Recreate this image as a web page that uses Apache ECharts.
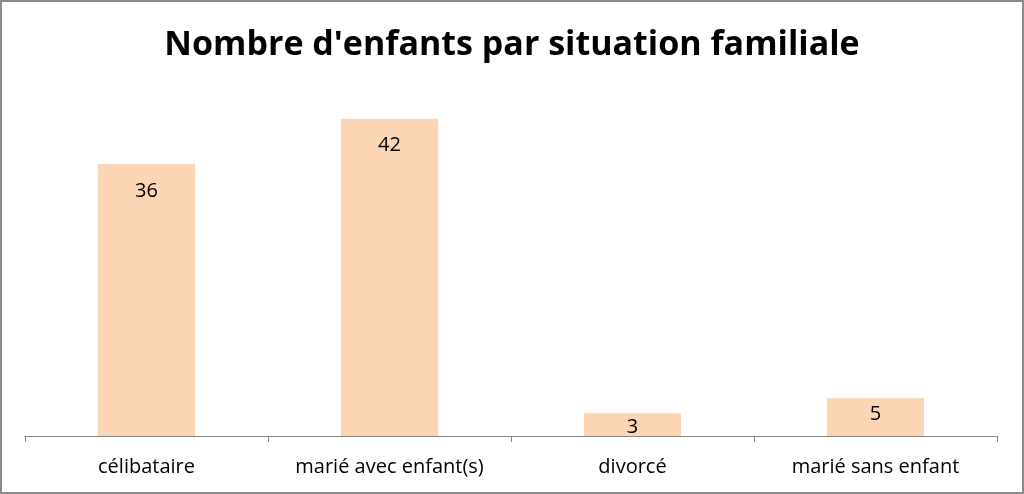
<!DOCTYPE html>
<html><head><meta charset="utf-8">
<script src="https://cdn.jsdelivr.net/npm/echarts@6/dist/echarts.min.js"></script>
<style>html,body{margin:0;padding:0;background:#fff}#c{width:1024px;height:494px;box-sizing:border-box;border:2px solid #8c8c8c}</style>
</head><body><div id="c"></div>
<script>
const titleText = "Nombre d'enfants par situation familiale";
const categories = ["célibataire", "marié avec enfant(s)", "divorcé", "marié sans enfant"];
const values = [36, 42, 3, 5];
// Excel-like "inside end" labels: short bars get their label pushed closer to the top
function labelDistance(v) { return v >= 10 ? 17 : (v >= 4 ? 6 : 4); }
const chart = echarts.init(document.getElementById('c'));
chart.setOption({
  animation: false,
  title: {text: titleText, left: 'center', top: 21,
    textStyle: {fontFamily: 'Open Sans', fontWeight: 'bold', fontSize: 34, color: '#000'}},
  grid: {left: 23, right: 25, top: 94, bottom: 56},
  xAxis: {type: 'category', data: categories,
    axisLine: {lineStyle: {color: '#868686', width: 1}},
    axisTick: {show: true, length: 6, lineStyle: {color: '#868686'}},
    axisLabel: {interval: 0, hideOverlap: false, color: '#000', fontFamily: 'Open Sans', fontSize: 20, margin: 21}},
  yAxis: {type: 'value', min: 0, max: 45, show: false, splitLine: {show: false}},
  series: [{type: 'bar', barCategoryGap: '60%',
    data: values.map(v => ({value: v, label: {distance: labelDistance(v)}})),
    itemStyle: {color: '#FCD5B5'},
    label: {show: true, position: 'insideTop', color: '#000', fontFamily: 'Open Sans', fontSize: 20}}]
});
</script></body></html>
